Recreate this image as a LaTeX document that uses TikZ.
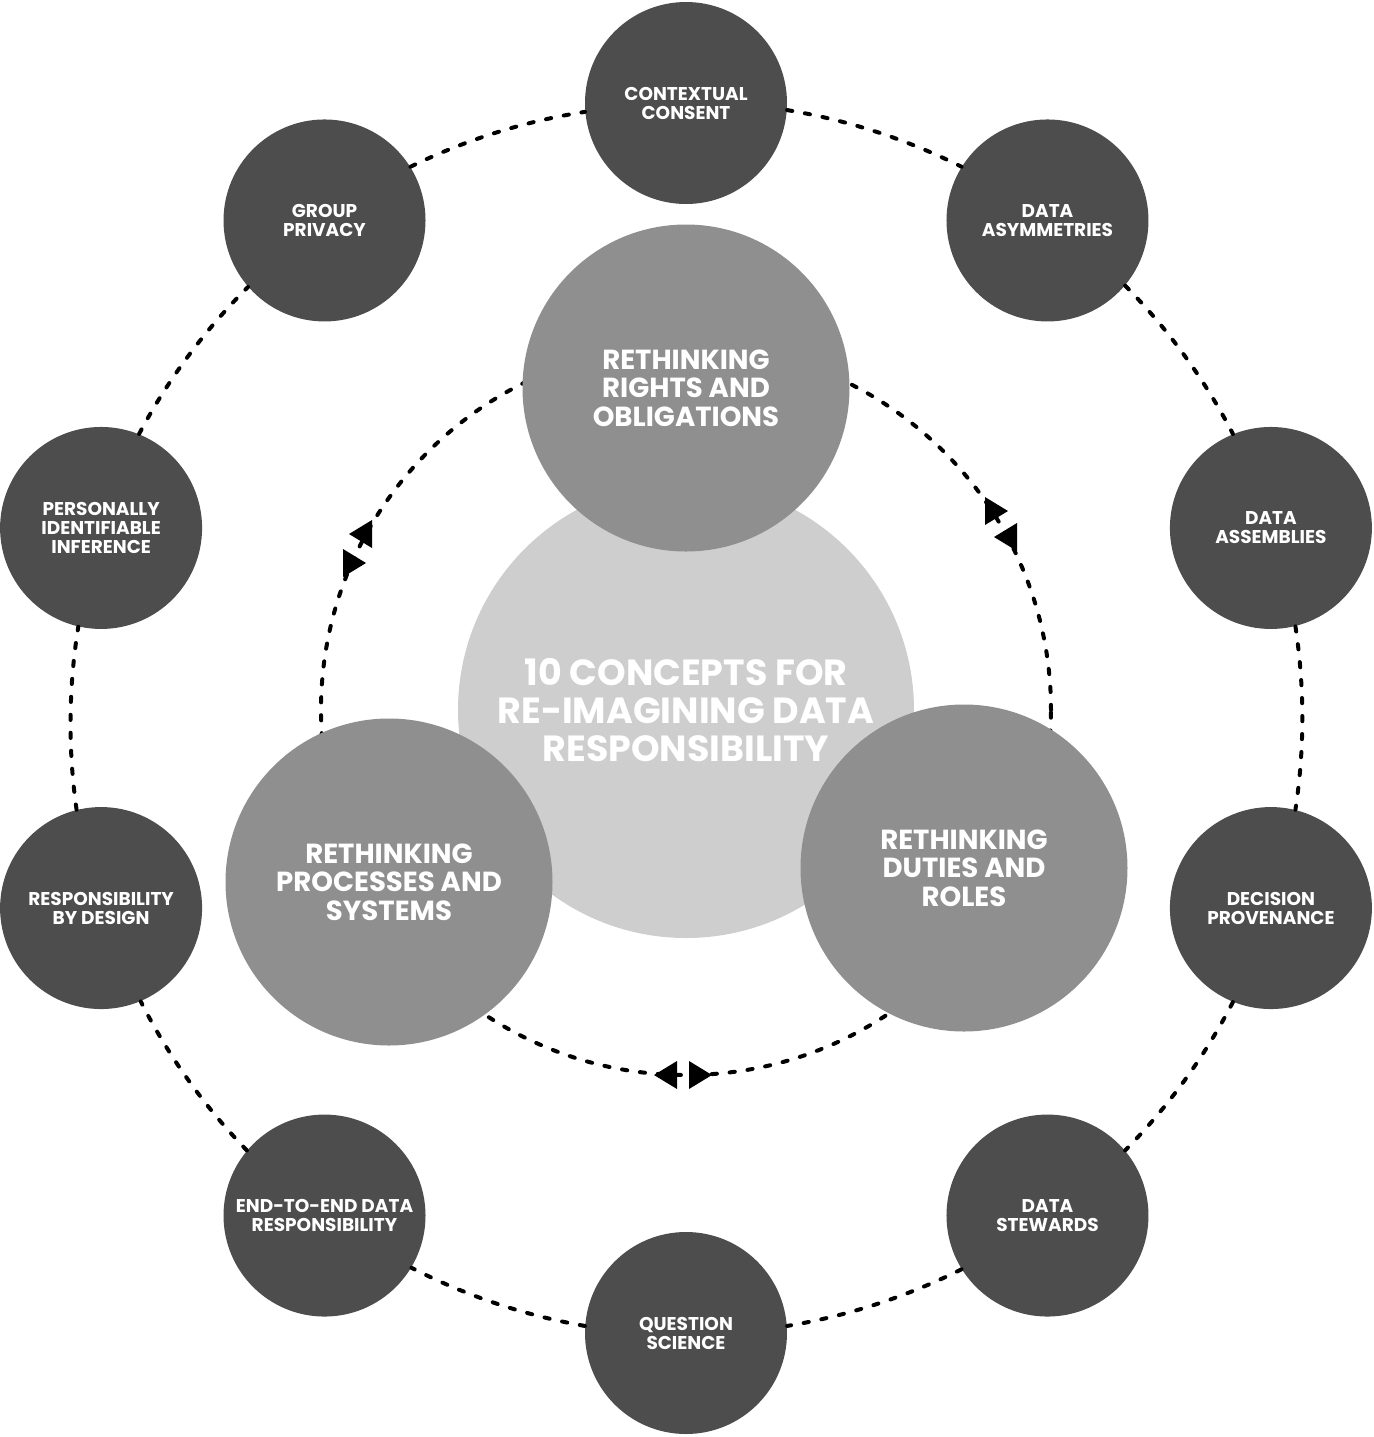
\documentclass[tikz,border=0pt]{standalone}
\usepackage{fontspec}
\setmainfont{Poppins}
\usetikzlibrary{calc}
\definecolor{outerfill}{RGB}{77,77,77}
\definecolor{themefill}{RGB}{143,143,143}
\definecolor{corefill}{RGB}{206,206,206}
\tikzset{
  concept/.style={circle, fill=outerfill, text=white, inner sep=0pt,
    minimum size=101pt, align=center,
    font=\fontsize{9.25}{9.5}\selectfont\bfseries},
  theme/.style={circle, fill=themefill, text=white, inner sep=0pt,
    minimum size=163.5pt, align=center,
    font=\fontsize{13.8}{14.25}\selectfont\bfseries},
  core/.style={circle, fill=corefill, text=white, inner sep=0pt,
    minimum size=228pt, align=center,
    font=\fontsize{18.2}{19}\selectfont\bfseries},
  ring/.style={black, line width=2pt, line cap=round,
    dash pattern=on 2.6pt off 6.4pt},
}

\begin{document}
\begin{tikzpicture}[x=0.5pt, y=-0.5pt]
\useasboundingbox (0,0) rectangle (1373,1437);
% Centre disc, the inner dashed ring runs round it
\node[core] (core) at (686,710)
  {10 CONCEPTS FOR\\RE-IMAGINING DATA\\RESPONSIBILITY};
\draw[ring] (core.center) circle[radius=182.5pt];
% Three themes sitting on the inner ring
\node[theme] (rights) at (686,388) {RETHINKING\\RIGHTS AND\\OBLIGATIONS};
\node[theme] (processes) at (389,882) {RETHINKING\\PROCESSES AND\\SYSTEMS};
\node[theme] (duties) at (964,868) {RETHINKING\\DUTIES AND\\ROLES};
% Arrow pairs halfway along each inner arc
\foreach \x/\y/\d in {669/1075/-1, 697/1075/1,
    364/534/-1, 351/563/1, 993/511/1, 1009/537/-1}
  \fill[black] ({\x+\d*15},\y) -- ({\x-\d*8},{\y-14}) -- ({\x-\d*8},{\y+14}) -- cycle;
% Outer ring: ten concepts, 36 degrees apart, radius 615
\foreach \a/\t [count=\i] in {
    90/{CONTEXTUAL\\CONSENT},
    54/{DATA\\ASYMMETRIES},
    18/{DATA\\ASSEMBLIES},
    -18/{DECISION\\PROVENANCE},
    -54/{DATA\\STEWARDS},
    -90/{QUESTION\\SCIENCE},
    -126/{END-TO-END DATA\\RESPONSIBILITY},
    -162/{RESPONSIBILITY\\BY DESIGN},
    162/{PERSONALLY\\IDENTIFIABLE\\INFERENCE},
    126/{GROUP\\PRIVACY}}
  \node[concept] (o\i) at ({686+615*cos(\a)}, {718-615*sin(\a)}) {\t};
% arcs leave each disc where the ring of radius 615 crosses it
\foreach \i in {1,...,10}{
  \pgfmathtruncatemacro\j{mod(\i,10)+1}
  \pgfmathsetmacro\ao{126-36*\i-94.7}
  \pgfmathsetmacro\ai{126-36*\i+58.7}
  \draw[ring] (o\i.\ao) to[bend left=8.6, looseness=0.86] (o\j.\ai);
}
\end{tikzpicture}
\end{document}
